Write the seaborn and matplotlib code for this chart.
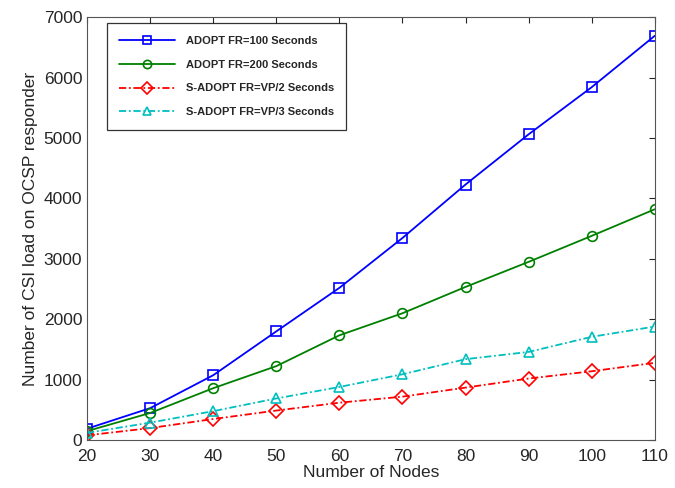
import pandas as pd
import matplotlib.pyplot as plt
import seaborn as sns

# Data
nodes = [20, 30, 40, 50, 60, 70, 80, 90, 100, 110]
adopt_100 = [190, 530, 1075, 1800, 2520, 3345, 4230, 5060, 5840, 6690]
adopt_200 = [150, 450, 860, 1225, 1735, 2100, 2535, 2950, 3380, 3820]
sadopt_vp2 = [80, 200, 350, 490, 620, 720, 870, 1020, 1140, 1280]
sadopt_vp3 = [120, 290, 480, 690, 880, 1090, 1340, 1460, 1710, 1880]
labels = ['ADOPT FR=100 Seconds', 'ADOPT FR=200 Seconds',
          'S-ADOPT FR=VP/2 Seconds', 'S-ADOPT FR=VP/3 Seconds']

rows = []
for lab, vals in zip(labels, [adopt_100, adopt_200, sadopt_vp2, sadopt_vp3]):
    for n, v in zip(nodes, vals):
        rows.append({'Nodes': n, 'Load': v, 'Series': lab})
df = pd.DataFrame(rows)

sns.set_style('white')
plt.rcParams['font.family'] = ['Liberation Sans', 'DejaVu Sans']

fig = plt.figure(figsize=(6.75, 4.88), dpi=100)
ax = fig.add_axes([0.129, 0.098, 0.841, 0.867])

palette = dict(zip(labels, ['#0000ff', '#008000', '#ff0000', '#00bfbf']))
markers = dict(zip(labels, ['s', 'o', 'D', '^']))
dashes = dict(zip(labels, ['', '', (4, 1.5, 1, 1.5), (4, 1.5, 1, 1.5)]))

sns.lineplot(data=df, x='Nodes', y='Load', hue='Series', style='Series',
             palette=palette, markers=markers, dashes=dashes, ax=ax,
             linewidth=1.3, markersize=7, markerfacecolor='none',
             markeredgewidth=1.2)
for line in ax.lines:
    line.set_markerfacecolor('none')
    line.set_markeredgecolor(line.get_color())

ax.set_xlim(20, 110)
ax.set_ylim(0, 7000)
ax.set_xticks(nodes)
ax.set_yticks(range(0, 7001, 1000))
ax.tick_params(direction='in', top=True, right=True, labelsize=12.5, length=4)
ax.tick_params(axis='x', pad=6)
for s in ax.spines.values():
    s.set_color('#555555')
    s.set_linewidth(0.8)
ax.set_xlabel('Number of Nodes', fontsize=12.5, labelpad=1)
ax.set_ylabel('Number of CSI load on OCSP responder', fontsize=12.5)

leg = ax.legend(loc='upper left', bbox_to_anchor=(0.025, 0.998), fontsize=8,
                frameon=True, fancybox=False, edgecolor='black',
                handlelength=5.0, handletextpad=1.0, borderpad=1.1,
                labelspacing=1.25, markerscale=0.85)
leg.get_frame().set_linewidth(0.9)
for t in leg.get_texts():
    t.set_fontweight('bold')
for h in leg.legend_handles:
    h.set_markerfacecolor('none')

fig.savefig('out.png', dpi=100)
